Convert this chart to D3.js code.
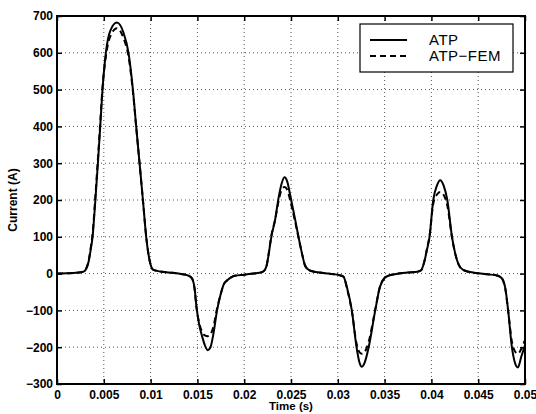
<!DOCTYPE html>
<html><head><meta charset="utf-8">
<script src="https://cdn.jsdelivr.net/npm/d3@7"></script>
<style>body{margin:0;background:#fff}svg{display:block}</style>
</head><body><div id="chart"></div>
<script>
const seriesNames = ["ATP", "ATP\u2212FEM"];
const xTicks = [0,0.005,0.01,0.015,0.02,0.025,0.03,0.035,0.04,0.045,0.05];
const yTicks = [-300,-200,-100,0,100,200,300,400,500,600,700];

const atpTime = [0,0.001,0.002,0.0028,0.0031,0.0034,0.0036,0.0038,0.0041,0.00437,0.00462,0.00486,0.00522,0.0057,0.0064,0.0071,0.00764,0.00811,0.00846,0.00882,0.00918,0.00953,0.0099,0.0103,0.011,0.012,0.013,0.0139,0.0144,0.0147,0.0149,0.0152,0.0155,0.0158,0.0161,0.0164,0.0167,0.0171,0.0175,0.0178,0.0182,0.0186,0.019,0.020,0.021,0.0219,0.0222,0.0224,0.0226,0.0229,0.0233,0.0237,0.0240,0.0243,0.0246,0.0249,0.02545,0.0258,0.02617,0.0265,0.0269,0.0275,0.028,0.029,0.030,0.0306,0.031,0.0315,0.0320,0.0323,0.03258,0.0329,0.0333,0.0340,0.0345,0.0350,0.0355,0.0365,0.0375,0.0385,0.0389,0.0391,0.0393,0.0395,0.0398,0.0402,0.0406,0.04094,0.0413,0.0417,0.0422,0.04254,0.0429,0.0434,0.0440,0.045,0.046,0.0470,0.0475,0.0479,0.0482,0.0486,0.0489,0.04924,0.0496,0.0500];
const atpCurrent = [0,1,2,5,12,35,65,100,200,300,400,500,600,660,682,655,600,500,400,300,200,100,35,10,6,3,0,-4,-12,-40,-90,-140,-170,-195,-208,-200,-165,-100,-55,-30,-18,-10,-6,-3,0,4,10,22,50,100,146,210,245,262,250,215,146,100,55,22,10,5,3,0,-3,-8,-40,-100,-200,-240,-253,-240,-200,-100,-36,-12,-5,0,3,5,9,20,38,62,100,200,240,254,240,200,100,55,25,10,5,1,-2,-5,-12,-40,-100,-200,-240,-255,-226,-195];

const femTime = atpTime;
const femCurrent = [0,1,2,5,13,38,70,108,210,312,410,505,590,645,667,640,590,495,398,300,200,100,35,10,6,3,0,-4,-12,-42,-92,-135,-158,-168,-170,-165,-145,-95,-55,-30,-18,-10,-6,-3,0,4,10,22,52,103,146,200,228,235,228,200,140,98,55,22,10,5,3,0,-3,-8,-42,-102,-190,-213,-218,-212,-185,-98,-36,-12,-5,0,3,5,9,20,39,64,102,190,215,222,214,185,98,55,25,10,5,1,-2,-5,-12,-42,-102,-185,-210,-218,-205,-180];

const W = 536, H = 414;
const m = {left:57, right:11, top:16, bottom:30};
const iw = W - m.left - m.right, ih = H - m.top - m.bottom;

const svg = d3.select("#chart").append("svg").attr("width", W).attr("height", H);
const g = svg.append("g").attr("transform", `translate(${m.left},${m.top})`);

const x = d3.scaleLinear().domain([0, 0.05]).range([0, iw]);
const y = d3.scaleLinear().domain([-300, 700]).range([ih, 0]);

// grid
g.append("g").selectAll("line").data(xTicks.slice(1, -1)).join("line")
  .attr("x1", d => x(d)).attr("x2", d => x(d)).attr("y1", 0).attr("y2", ih)
  .attr("stroke", "#555").attr("stroke-width", 1).attr("stroke-dasharray", "1,3");
g.append("g").selectAll("line").data(yTicks.slice(1, -1)).join("line")
  .attr("y1", d => y(d)).attr("y2", d => y(d)).attr("x1", 0).attr("x2", iw)
  .attr("stroke", "#555").attr("stroke-width", 1).attr("stroke-dasharray", "1,3");

const font = "'Liberation Sans', Arial, Helvetica, sans-serif";

// axes
g.append("g").attr("transform", `translate(0,${ih})`)
  .call(d3.axisBottom(x).tickValues(xTicks).tickFormat(d => d === 0 ? "0" : String(+d.toFixed(3))).tickSizeInner(-5).tickSizeOuter(0).tickPadding(6));
g.append("g")
  .call(d3.axisLeft(y).tickValues(yTicks).tickFormat(d => d < 0 ? "\u2212" + Math.abs(d) : String(d)).tickSizeInner(-5).tickSizeOuter(0).tickPadding(4));
g.append("g").call(d3.axisTop(x).tickValues(xTicks).tickFormat("").tickSizeInner(-5).tickSizeOuter(0));
g.append("g").attr("transform", `translate(${iw},0)`).call(d3.axisRight(y).tickValues(yTicks).tickFormat("").tickSizeInner(-5).tickSizeOuter(0));
g.selectAll(".domain").remove();
g.selectAll(".tick line").attr("stroke", "#000").attr("stroke-width", 1.5);
g.selectAll(".tick text").attr("font-family", font).attr("font-size", 12).attr("font-weight", "bold").attr("fill", "#000");

// lines
const line = d3.line().curve(d3.curveMonotoneX);
g.append("clipPath").attr("id", "clip").append("rect").attr("width", iw).attr("height", ih);
const pl = g.append("g").attr("clip-path", "url(#clip)");
pl.append("path").attr("d", line(femTime.map((t, i) => [x(t), y(femCurrent[i])])))
  .attr("fill", "none").attr("stroke", "#000").attr("stroke-width", 2).attr("stroke-dasharray", "6,4");
pl.append("path").attr("d", line(atpTime.map((t, i) => [x(t), y(atpCurrent[i])])))
  .attr("fill", "none").attr("stroke", "#000").attr("stroke-width", 2);

// frame
g.append("rect").attr("width", iw).attr("height", ih).attr("fill", "none").attr("stroke", "#000").attr("stroke-width", 2);

// labels
svg.append("text").attr("x", m.left + iw / 2).attr("y", 410).attr("text-anchor", "middle")
  .attr("font-family", font).attr("font-size", 11.5).attr("font-weight", "bold").text("Time (s)");
svg.append("text").attr("transform", `translate(17,${m.top + ih / 2}) rotate(-90)`).attr("text-anchor", "middle")
  .attr("font-family", font).attr("font-size", 12).attr("font-weight", "bold").text("Current (A)");

// legend
const lg = svg.append("g");
lg.append("rect").attr("x", 360).attr("y", 24).attr("width", 153).attr("height", 48).attr("fill", "#fff").attr("stroke", "#000").attr("stroke-width", 1.2);
const dashes = [null, "6,4"];
seriesNames.forEach((name, i) => {
  const yy = 40 + i * 16;
  lg.append("line").attr("x1", 370).attr("x2", 407).attr("y1", yy).attr("y2", yy)
    .attr("stroke", "#000").attr("stroke-width", 2).attr("stroke-dasharray", dashes[i]);
  lg.append("text").attr("x", 429).attr("y", yy + 5).attr("font-family", font).attr("font-size", 15)
    .attr("letter-spacing", 0.5).text(name);
});
</script></body></html>
